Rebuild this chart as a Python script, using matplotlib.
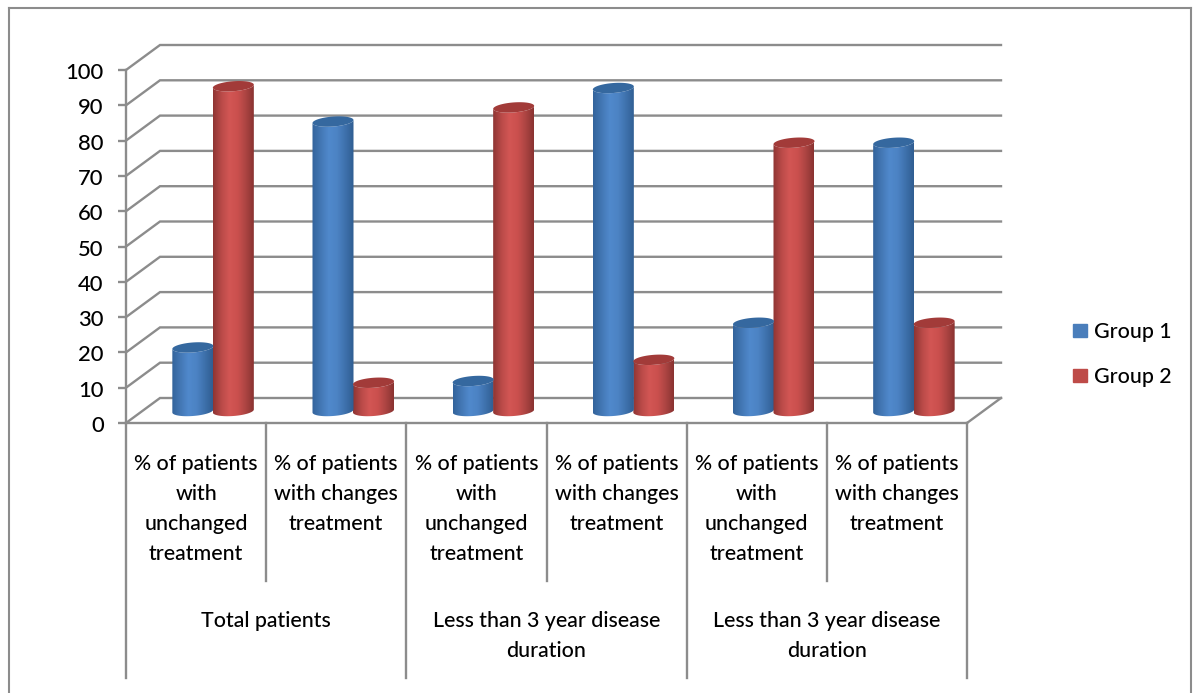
import matplotlib
matplotlib.use('Agg')
import matplotlib.pyplot as plt
import numpy as np
from matplotlib.colors import LinearSegmentedColormap
from matplotlib.lines import Line2D
from matplotlib.patches import Patch, Polygon
from matplotlib.transforms import ScaledTranslation

plt.rcParams['font.family'] = ['Lato', 'DejaVu Sans']

UNCHANGED = '% of patients\nwith\nunchanged\ntreatment'
CHANGED = '% of patients\nwith changes\ntreatment'
categories = [UNCHANGED, CHANGED, UNCHANGED, CHANGED, UNCHANGED, CHANGED]
groups = ['Total patients',
          'Less than 3 year disease\nduration',
          'Less than 3 year disease\nduration']
group1 = [18, 82, 8.5, 91.5, 25, 76]
group2 = [92, 8, 86, 14.5, 76, 25]
yticks = [0, 10, 20, 30, 40, 50, 60, 70, 80, 90, 100]

GREY = '#8c8c8c'
FONT = 15.4

# front plane of the fake 3d box, in pixels
LEFT, RIGHT, TOP, BOTTOM = 126, 967, 70, 423
PX_X = 6 / (RIGHT - LEFT)
PX_Y = 100 / (BOTTOM - TOP)

# depth of the box
DEPTH_X = 34 * PX_X
DEPTH_Y = 25 * PX_Y

BLUE_MAP = LinearSegmentedColormap.from_list(
    'b', ['#33649c', '#4377b4', '#5089cc', '#4c83c4', '#3e71ac', '#305e92'])
RED_MAP = LinearSegmentedColormap.from_list(
    'r', ['#8f3533', '#b94a48', '#d25654', '#cb504e', '#ad4543', '#8a3331'])


def cylinder(ax, x, value, cmap, top_color):
    # x is the centre of the bar, bars sit half way into the box
    a = 20.5 * PX_X
    b = 5 * PX_Y
    tilt = 1.5 * PX_Y
    base = 12 * PX_Y
    t = np.linspace(0, 2 * np.pi, 80)
    lower = np.linspace(np.pi, 2 * np.pi, 40)

    body = np.concatenate([
        np.c_[x + a * np.cos(lower),
              base + b * np.sin(lower) + tilt * np.cos(lower)],
        np.c_[x + a * np.cos(lower[::-1]),
              base + value + b * np.sin(lower[::-1]) + tilt * np.cos(lower[::-1])],
    ])
    patch = Polygon(body, closed=True, fc='none', ec='none', transform=ax.transData)
    ax.add_patch(patch)
    im = ax.imshow(np.linspace(0, 1, 64).reshape(1, -1), cmap=cmap, aspect='auto',
                   extent=(x - a, x + a, 0, 100), zorder=3, interpolation='bilinear')
    im.set_clip_path(patch)

    cap = np.c_[x + a * np.cos(t),
                base + value + b * np.sin(t) + tilt * np.cos(t)]
    ax.add_patch(Polygon(cap, closed=True, fc=top_color, ec='none', zorder=3.1))


fig = plt.figure(figsize=(12, 6.93), dpi=100)
ax = fig.add_axes([LEFT / 1200, 1 - BOTTOM / 693,
                   (RIGHT - LEFT) / 1200, (BOTTOM - TOP) / 693])

# outer chart border
for xs, ys in [([9, 9], [693, 8]), ([9, 1191], [8, 8]), ([1191, 1191], [8, 693])]:
    fig.add_artist(Line2D(np.array(xs) / 1200, 1 - np.array(ys) / 693,
                          color=GREY, lw=1.5))

# gridlines: up the side wall then along the back wall
for v in yticks:
    ax.plot([0, DEPTH_X, 6 + DEPTH_X], [v, v + DEPTH_Y, v + DEPTH_Y],
            color=GREY, lw=1.7, clip_on=False, zorder=1, solid_joinstyle='miter')
ax.plot([6, 6 + DEPTH_X], [0, DEPTH_Y], color=GREY, lw=1.7, clip_on=False, zorder=1)

# bars, shorter one of each pair first so the taller overlaps it
width = 40.5 * PX_X
shift = 17 * PX_X
for i in range(len(categories)):
    pair = [(group1[i], i + .5 + shift - width / 2, BLUE_MAP, '#35689f'),
            (group2[i], i + .5 + shift + width / 2, RED_MAP, '#a23b39')]
    for value, x, cmap, top in sorted(pair, key=lambda p: p[0]):
        cylinder(ax, x, value, cmap, top)

ax.set_xlim(0, 6)
ax.set_ylim(0, 100)
ax.set_yticks(yticks)
ax.set_xticks([])
ax.tick_params(axis='y', length=5.5, width=1.7, color=GREY, labelsize=15.8, pad=10.5)
# the labels sit a little low in the original
label_shift = ScaledTranslation(0, -3 / 100, fig.dpi_scale_trans)
for lab in ax.get_yticklabels():
    lab.set_fontweight('medium')
    lab.set_va('center')
    lab.set_transform(lab.get_transform() + label_shift)
for side in ['top', 'right']:
    ax.spines[side].set_visible(False)
for side in ['left', 'bottom']:
    ax.spines[side].set_color(GREY)
    ax.spines[side].set_linewidth(1.7)
ax.patch.set_alpha(0)

# multi level category axis below the plot
for i, label in enumerate(categories):
    ax.text(i + .5, -(454 - BOTTOM) * PX_Y, label, ha='center', va='top', fontweight='medium',
            fontsize=FONT, linespacing=1.62, clip_on=False)
for i in range(1, 6, 2):
    ax.plot([i, i], [0, -(581 - BOTTOM) * PX_Y], color=GREY, lw=1.7, clip_on=False)
for i in range(0, 7, 2):
    ax.plot([i, i], [0, -(678 - BOTTOM) * PX_Y], color=GREY, lw=1.7, clip_on=False)
for i, label in enumerate(groups):
    ax.text(2 * i + 1, -(611 - BOTTOM) * PX_Y, label, ha='center', va='top', fontweight='medium',
            fontsize=FONT, linespacing=1.62, clip_on=False)

handles = [Patch(color='#4a7ebb', label='Group 1'), Patch(color='#be4b48', label='Group 2')]
fig.legend(handles=handles, loc='center left', bbox_to_anchor=(1054 / 1200, 1 - 354.5 / 693),
           frameon=False, handlelength=0.62, handleheight=0.62,
           handletextpad=0.33, labelspacing=1.17, prop={'size': FONT, 'weight': 'medium'})

fig.savefig('out.png', dpi=100)
